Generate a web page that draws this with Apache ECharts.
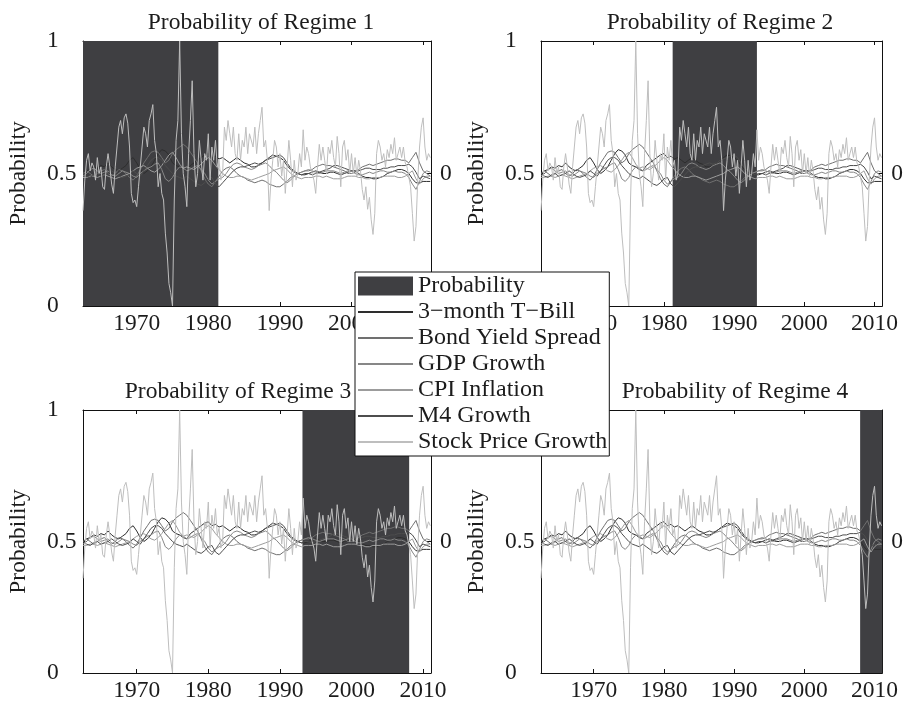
<!DOCTYPE html>
<html><head><meta charset="utf-8">
<script src="https://cdn.jsdelivr.net/npm/echarts@6/dist/echarts.min.js"></script>
<style>html,body{margin:0;padding:0;background:#fff}#c{width:906px;height:703px}</style>
</head><body><div id="c"></div>
<script>
// ---------------- DATA ----------------
const panelTitles = ['Probability of Regime 1', 'Probability of Regime 2', 'Probability of Regime 3', 'Probability of Regime 4'];
const xTickLabels = [1970, 1980, 1990, 2000, 2010];
const leftTickLabels = [0, 0.5, 1];
const rightTickLabels = [0];

// Regime probability (smoothed probability is ~1 inside these spans, 0 elsewhere)
const regimeStart = [1962.5, 1981.25, 1993.15, 2007.95];
const regimeEnd   = [1981.4, 1993.25, 2008.05, 2011.1];

const firstQuarter = 1962.5;   // quarterly sampling start (decimal year)
const firstHalf = 1962.5;      // half-yearly sampling start

// Stock Price Growth (normalised, quarterly)
const stockPrice = [
 -0.28, -0.05,
 0.10, 0.15, 0.02, 0.08,
 0.05, -0.05, 0.12, 0.00,
 0.05, -0.10, -0.12, 0.05,
 0.15, 0.05, -0.08, -0.15,
 0.05, 0.20, 0.35, 0.40,
 0.30, 0.42, 0.45, 0.38,
 0.20, -0.15, -0.22, -0.20,
 -0.25, -0.10, 0.05, 0.20,
 0.35, 0.30, 0.20, 0.40,
 0.45, 0.52, 0.25, 0.15,
 -0.10, 0.00, -0.15, -0.20,
 -0.45, -0.60, -0.83, -0.90,
 -1.00, -0.20, 0.25, 0.40,
 1.00, 0.30, 0.00, -0.10,
 -0.25, 0.15, 0.40, 0.70,
 0.15, -0.10, 0.00, 0.25,
 0.10, -0.05, 0.15, 0.10,
 0.30, -0.05, 0.20, 0.10,
 0.25, 0.05, 0.10, -0.05,
 0.00, 0.35, 0.25, 0.40,
 0.30, 0.20, 0.35, 0.15,
 0.10, 0.30, 0.10, 0.25,
 0.20, 0.35, 0.15, 0.30,
 0.30, 0.20, 0.35, 0.15,
 0.30, 0.40, 0.50, 0.20,
 0.25, 0.10, -0.28, -0.05,
 0.10, 0.25, 0.20, 0.05,
 0.15, -0.02, 0.10, -0.15,
 0.05, 0.25, 0.10, -0.10,
 0.10, -0.05, 0.00, 0.15,
 0.05, 0.33, 0.10, 0.20,
 0.15, 0.05, 0.00, -0.05,
 -0.15, 0.05, 0.22, 0.10,
 0.20, 0.10, 0.00, 0.20,
 0.15, 0.25, 0.12, 0.05,
 0.28, 0.15, -0.10, 0.20,
 0.25, 0.10, 0.18, 0.00,
 0.15, 0.00, 0.12, -0.02,
 0.10, 0.02, -0.12, -0.20,
 -0.10, -0.27, -0.18, -0.35,
 -0.46, -0.30, 0.15, 0.25,
 0.20, 0.10, 0.15, 0.05,
 0.18, 0.12, 0.22, 0.15,
 0.27, 0.10, 0.15, 0.20,
 0.12, 0.20, 0.08, 0.05,
 0.05, -0.10, -0.30, -0.51,
 -0.40, -0.05, 0.20, 0.35,
 0.42, 0.20, 0.10, 0.15,
 0.12
];

// Smoother macro series (normalised, half-yearly)
const tBill = [
 0.00,
 0.02, 0.03, 0.05, 0.04, 0.06, 0.05, 0.08, 0.05, 0.03, 0.02,
 0.04, 0.06, 0.10, 0.12, 0.08, 0.03, 0.00, 0.02, 0.05, 0.10,
 0.15, 0.18, 0.17, 0.14, 0.08, 0.06, 0.05, 0.03, 0.02, 0.06,
 0.08, 0.10, 0.12, 0.14, 0.15, 0.12, 0.13, 0.11, 0.12, 0.10,
 0.08, 0.10, 0.12, 0.10, 0.08, 0.07, 0.05, 0.05, 0.06, 0.08,
 0.10, 0.12, 0.14, 0.13, 0.12, 0.10, 0.06, 0.03, 0.01, 0.00,
 -0.01, -0.01, 0.00, 0.01, 0.02, 0.01, 0.00, 0.00, 0.01, 0.01,
 0.00, -0.01, 0.00, 0.01, 0.02, 0.02, 0.00, -0.02, -0.03, -0.03,
 -0.04, -0.04, -0.03, -0.02, 0.00, 0.01, 0.02, 0.03, 0.03, 0.02,
 0.00, -0.04, -0.07, -0.07, -0.06, -0.06,
 -0.06
];
const bondSpread = [
 0.00,
 0.02, 0.00, -0.02, 0.00, 0.02, 0.03, 0.00, -0.02, 0.00, 0.03,
 0.02, 0.00, -0.03, -0.05, -0.02, 0.03, 0.08, 0.12, 0.16, 0.17,
 0.16, 0.12, 0.08, 0.10, 0.15, 0.18, 0.20, 0.22, 0.20, 0.16,
 0.12, 0.08, 0.02, -0.04, -0.08, -0.10, -0.06, -0.02, 0.02, 0.04,
 0.05, 0.03, 0.00, -0.02, -0.03, -0.05, -0.06, -0.07, -0.06, -0.05,
 -0.06, -0.08, -0.09, -0.10, -0.10, -0.08, -0.06, -0.03, -0.02, 0.00,
 0.01, 0.02, 0.02, 0.03, 0.05, 0.06, 0.07, 0.06, 0.06, 0.05,
 0.04, 0.03, 0.02, 0.00, 0.00, 0.01, 0.03, 0.05, 0.06, 0.07,
 0.06, 0.07, 0.08, 0.09, 0.10, 0.10, 0.11, 0.11, 0.10, 0.10,
 0.08, 0.12, 0.16, 0.08, 0.02, 0.00,
 -0.02
];
const gdpGrowth = [
 -0.02,
 0.00, 0.03, 0.04, 0.02, 0.00, 0.01, 0.02, -0.01, -0.02, 0.00,
 0.02, 0.01, 0.00, -0.02, -0.03, 0.00, 0.02, 0.04, 0.05, 0.07,
 0.08, 0.03, -0.04, -0.06, -0.03, 0.02, 0.05, 0.04, 0.02, 0.03,
 0.05, 0.06, 0.03, 0.00, -0.05, -0.08, -0.06, -0.04, -0.03, 0.00,
 0.04, 0.07, 0.08, 0.07, 0.05, 0.04, 0.03, 0.04, 0.06, 0.07,
 0.08, 0.06, 0.03, 0.01, -0.02, -0.05, -0.07, -0.05, -0.02, 0.00,
 0.01, 0.02, 0.03, 0.02, 0.01, 0.00, 0.01, 0.02, 0.02, 0.02,
 0.01, 0.00, 0.01, 0.02, 0.02, 0.00, -0.01, -0.01, 0.00, 0.01,
 0.00, 0.01, 0.02, 0.02, 0.01, 0.01, 0.02, 0.01, 0.01, 0.00,
 -0.03, -0.08, -0.12, -0.06, 0.00, 0.02,
 0.01
];
const cpiInflation = [
 -0.03,
 -0.03, -0.02, -0.02, -0.03, -0.02, -0.01, -0.02, -0.03, -0.04, -0.03,
 -0.02, -0.01, 0.00, 0.02, 0.04, 0.05, 0.06, 0.04, 0.02, 0.01,
 0.03, 0.06, 0.10, 0.14, 0.16, 0.12, 0.07, 0.04, 0.05, 0.04,
 0.03, 0.05, 0.07, 0.10, 0.12, 0.10, 0.06, 0.03, 0.00, -0.02,
 -0.03, -0.03, -0.02, -0.02, -0.03, -0.04, -0.05, -0.04, -0.03, -0.02,
 -0.01, 0.00, 0.02, 0.03, 0.04, 0.05, 0.03, 0.00, -0.02, -0.03,
 -0.04, -0.03, -0.03, -0.03, -0.02, -0.02, -0.03, -0.02, -0.03, -0.04,
 -0.04, -0.04, -0.03, -0.02, -0.02, -0.02, -0.03, -0.03, -0.04, -0.04,
 -0.03, -0.03, -0.03, -0.02, -0.02, -0.02, -0.02, -0.03, -0.03, -0.02,
 0.00, 0.02, -0.04, -0.08, -0.04, -0.02,
 -0.02
];
const m4Growth = [
 0.00,
 -0.02, -0.03, -0.01, 0.00, -0.02, -0.01, 0.00, 0.02, 0.00, -0.02,
 -0.03, -0.02, -0.01, 0.02, 0.00, -0.02, 0.02, 0.06, 0.10, 0.12,
 0.12, 0.10, 0.06, 0.03, 0.00, -0.02, -0.03, -0.04, -0.02, -0.04,
 -0.06, -0.08, -0.09, -0.07, -0.04, -0.03, -0.08, -0.10, -0.07, -0.04,
 -0.01, 0.02, 0.04, 0.05, 0.05, 0.06, 0.07, 0.08, 0.07, 0.08,
 0.10, 0.11, 0.12, 0.13, 0.14, 0.12, 0.08, 0.04, 0.02, 0.00,
 -0.01, 0.00, 0.00, -0.01, 0.00, 0.01, 0.02, 0.03, 0.04, 0.06,
 0.06, 0.05, 0.04, 0.03, 0.02, 0.02, 0.02, 0.03, 0.04, 0.04,
 0.03, 0.03, 0.03, 0.04, 0.04, 0.05, 0.05, 0.06, 0.06, 0.06,
 0.07, 0.05, 0.01, -0.04, -0.02, -0.03,
 -0.04
];

const lineNames = ['3\u2212month T\u2212Bill', 'Bond Yield Spread', 'GDP Growth', 'CPI Inflation', 'M4 Growth', 'Stock Price Growth'];
const lineValues = [tBill, bondSpread, gdpGrowth, cpiInflation, m4Growth, stockPrice];
const lineStep = [0.5, 0.5, 0.5, 0.5, 0.5, 0.25];
const lineStart = [firstHalf, firstHalf, firstHalf, firstHalf, firstHalf, firstQuarter];

// ---------------- STYLE ----------------
const FONT = 'Liberation Serif';
const FS = 23.5;
const TXT = '#1c1c1c';
const lineColors = ['#2e2e2e', '#707070', '#878787', '#9c9c9c', '#4d4d4d', '#bebebe'];
const shadeColor = '#3f3f42';
const grids = [
  {left: 83, top: 41, width: 348, height: 265},
  {left: 541, top: 41, width: 348, height: 265},
  {left: 83, top: 410, width: 348, height: 265},
  {left: 541, top: 410, width: 348, height: 265}
];
const titlePos = [[256, 6], [715, 6], [233, 375], [730, 375]];
const X_MIN = 1962.5, X_MAX = 2011.1;

const xAxes = [], yAxes = [], series = [], titles = [];
grids.forEach((g, i) => {
  titles.push({
    text: panelTitles[i], left: titlePos[i][0], top: titlePos[i][1], textAlign: 'center',
    textStyle: {fontFamily: FONT, fontSize: FS, fontWeight: 'normal', color: TXT}
  });
  const axLine = {show: true, onZero: false, lineStyle: {color: '#111', width: 1}};
  xAxes.push({
    type: 'value', gridIndex: i, min: X_MIN, max: X_MAX, position: 'bottom',
    axisLine: axLine, splitLine: {show: false},
    axisTick: {show: true, inside: true, length: 4, customValues: xTickLabels, lineStyle: {color: '#111'}},
    axisLabel: {customValues: xTickLabels, fontFamily: FONT, fontSize: FS, color: TXT, margin: 6, formatter: v => String(v)}
  });
  xAxes.push({
    type: 'value', gridIndex: i, min: X_MIN, max: X_MAX, position: 'top',
    axisLine: axLine, splitLine: {show: false},
    axisTick: {show: true, inside: true, length: 4, customValues: xTickLabels, lineStyle: {color: '#111'}},
    axisLabel: {show: false}
  });
  yAxes.push({
    type: 'value', gridIndex: i, min: 0, max: 1, interval: 0.5, position: 'left',
    name: 'Probability', nameLocation: 'middle', nameGap: 52, nameRotate: 90,
    nameTextStyle: {fontFamily: FONT, fontSize: FS, color: TXT},
    axisLine: axLine, splitLine: {show: false},
    axisTick: {show: true, inside: true, length: 4, lineStyle: {color: '#111'}},
    axisLabel: {fontFamily: FONT, fontSize: FS, color: TXT, align: 'left', margin: 36,
      customValues: leftTickLabels, formatter: v => String(v)}
  });
  yAxes.push({
    type: 'value', gridIndex: i, min: -1, max: 1, interval: 1, position: 'right',
    axisLine: axLine, splitLine: {show: false},
    axisTick: {show: true, inside: true, length: 4, customValues: rightTickLabels, lineStyle: {color: '#111'}},
    axisLabel: {fontFamily: FONT, fontSize: FS, color: TXT, margin: 9,
      customValues: rightTickLabels, formatter: v => String(v)}
  });
  // probability shading
  series.push({
    name: 'Probability', type: 'line', xAxisIndex: 2 * i, yAxisIndex: 2 * i,
    data: [[regimeStart[i], 1], [regimeEnd[i], 1]],
    symbol: 'none', silent: true, z: 1,
    lineStyle: {width: 0, color: shadeColor},
    itemStyle: {color: shadeColor},
    areaStyle: {color: shadeColor, opacity: 1, origin: 'start'}
  });
  lineNames.forEach((nm, k) => {
    const vals = lineValues[k];
    series.push({
      name: nm, type: 'line', xAxisIndex: 2 * i, yAxisIndex: 2 * i + 1,
      data: vals.map((v, j) => [lineStart[k] + j * lineStep[k], v]),
      symbol: 'none', silent: true, z: 2 + k,
      lineStyle: {width: 1, color: lineColors[k]},
      itemStyle: {color: lineColors[k]}
    });
  });
});

const option = {
  backgroundColor: '#fff',
  animation: false,
  textStyle: {fontFamily: FONT},
  title: titles,
  grid: grids,
  xAxis: xAxes,
  yAxis: yAxes,
  legend: {
    orient: 'vertical', left: 355, top: 272, z: 20,
    backgroundColor: '#fff', borderColor: '#111', borderWidth: 1,
    padding: [2, 2, 2, 2], itemWidth: 55, itemHeight: 19, itemGap: 2,
    textStyle: {fontFamily: FONT, fontSize: 24, lineHeight: 23.5, color: TXT},
    selectedMode: false,
    data: [{name: 'Probability', icon: 'rect'}].concat(lineNames.map(n => ({name: n, itemStyle: {opacity: 0, borderWidth: 0}})))
  },
  series: series
};
echarts.init(document.getElementById('c')).setOption(option);
</script></body></html>
